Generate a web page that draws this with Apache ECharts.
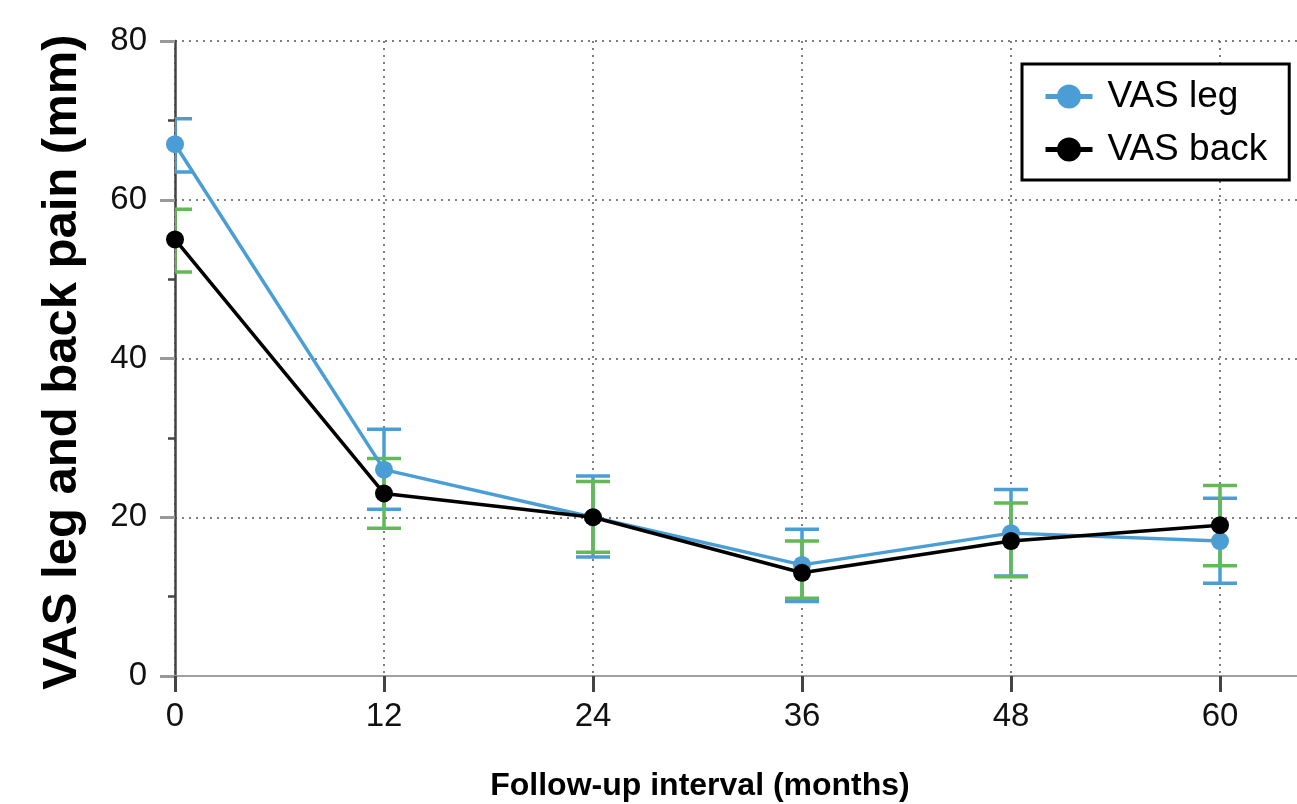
<!DOCTYPE html>
<html><head><meta charset="utf-8">
<script src="https://cdn.jsdelivr.net/npm/echarts@6/dist/echarts.min.js"></script>
<style>html,body{margin:0;padding:0;background:#fff}#c{width:1297px;height:804px}</style>
</head><body><div id="c"></div>
<script>
// ---- data ----
const months = [0, 12, 24, 36, 48, 60];
const legMean = [67, 26, 20, 14, 18, 17];
const legLow  = [63.5, 21, 15, 9.4, 12.6, 11.7];
const legHigh = [70.2, 31.1, 25.2, 18.5, 23.5, 22.4];
const backMean = [55, 23, 20, 13, 17, 19];
const backLow  = [50.9, 18.6, 15.6, 9.8, 12.5, 13.9];
const backHigh = [58.8, 27.4, 24.5, 17, 21.8, 24];
const seriesNames = ['VAS leg', 'VAS back'];
const xTitle = 'Follow-up interval (months)';
const yTitle = 'VAS leg and back pain (mm)';

const BLUE = '#4a9ed5', GREEN = '#62b955', BLACK = '#000000';
const FONT = "'Liberation Sans', Arial, sans-serif";

function errSeries(name, low, high, color) {
  return {
    type: 'custom', name: name, clip: true, z: 2, silent: true,
    data: months.map((m, i) => [m, low[i], high[i]]),
    encode: { x: 0, y: [1, 2] },
    renderItem: function (params, api) {
      const x = api.value(0);
      const lo = api.coord([x, api.value(1)]);
      const hi = api.coord([x, api.value(2)]);
      const hw = 17;
      const style = { stroke: color, lineWidth: 3.5 };
      return { type: 'group', children: [
        { type: 'line', shape: { x1: lo[0], y1: lo[1], x2: hi[0], y2: hi[1] }, style: style },
        { type: 'line', shape: { x1: hi[0] - hw, y1: hi[1], x2: hi[0] + hw, y2: hi[1] }, style: style },
        { type: 'line', shape: { x1: lo[0] - hw, y1: lo[1], x2: lo[0] + hw, y2: lo[1] }, style: style }
      ]};
    }
  };
}

const chart = echarts.init(document.getElementById('c'), null, { renderer: 'canvas' });
chart.setOption({
  animation: false,
  backgroundColor: '#fff',
  textStyle: { fontFamily: FONT },
  grid: { left: 175, top: 41, width: 1254, height: 635, outerBoundsMode: 'none', containLabel: false },
  legend: {
    data: seriesNames,
    orient: 'vertical',
    left: 1022, top: 64,
    padding: [14, 22, 12, 21],
    borderColor: '#000', borderWidth: 3, backgroundColor: '#fff',
    itemWidth: 47, itemHeight: 30, itemGap: 16,
    textStyle: { fontSize: 37, color: '#000', fontFamily: FONT, lineHeight: 36, padding: [0, 0, 0, 10] },
    lineStyle: { width: 5 }
  },
  xAxis: [{
    type: 'value', min: 0, max: 72, interval: 12,
    axisLine: { show: true, onZero: false, lineStyle: { color: '#a0a0a0', width: 2 } },
    axisTick: { show: true, length: 16, lineStyle: { color: '#444', width: 3 } },
    axisLabel: { fontSize: 33, color: '#111', margin: 24, fontFamily: FONT },
    splitLine: { show: true, lineStyle: { color: '#555', width: 1.5, type: [2, 5] } }
  }, {
    type: 'value', min: 0, max: 72, position: 'top',
    axisLine: { show: true, lineStyle: { color: '#a0a0a0', width: 2 } },
    axisTick: { show: false }, axisLabel: { show: false }, splitLine: { show: false }
  }],
  yAxis: {
    type: 'value', min: 0, max: 80, interval: 20,
    axisLine: { show: true, onZero: false, lineStyle: { color: '#444', width: 2.5 } },
    axisTick: { show: true, length: 15, lineStyle: { color: '#999', width: 3 } },
    minorTick: { show: true, splitNumber: 2, length: 7, lineStyle: { color: '#444', width: 2.5 } },
    axisLabel: { fontSize: 33, color: '#111', margin: 28, fontFamily: FONT },
    splitLine: { show: true, lineStyle: { color: '#555', width: 1.5, type: [2, 5] } }
  },
  graphic: [
    { type: 'text', silent: true, x: 700, y: 786,
      style: { text: xTitle, font: "bold 32px 'Liberation Sans', Arial, sans-serif", fill: '#000', textAlign: 'center', textVerticalAlign: 'middle' } },
    { type: 'text', silent: true, x: 62, y: 362, rotation: Math.PI / 2,
      style: { text: yTitle, font: "bold 49px 'Liberation Sans', Arial, sans-serif", fill: '#000', textAlign: 'center', textVerticalAlign: 'middle' } }
  ],
  series: [
    errSeries('legErr', legLow, legHigh, BLUE),
    errSeries('backErr', backLow, backHigh, GREEN),
    { type: 'line', name: seriesNames[0], z: 3, data: months.map((m, i) => [m, legMean[i]]),
      symbol: 'circle', symbolSize: 18, clip: false,
      lineStyle: { color: BLUE, width: 3.5 }, itemStyle: { color: BLUE } },
    { type: 'line', name: seriesNames[1], z: 4, data: months.map((m, i) => [m, backMean[i]]),
      symbol: 'circle', symbolSize: 18, clip: false,
      lineStyle: { color: BLACK, width: 3.5 }, itemStyle: { color: BLACK } }
  ]
});
</script></body></html>
